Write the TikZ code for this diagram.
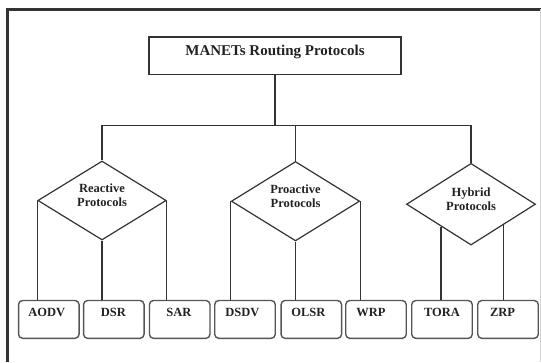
\documentclass[tikz,border=0pt]{standalone}
\usepackage{fontspec}
\setmainfont{Liberation Serif}
\usetikzlibrary{shapes.geometric,calc}
\definecolor{ink}{HTML}{222222}
\definecolor{edge}{HTML}{333333}
\definecolor{leafedge}{HTML}{555555}
\newcommand\leafTxt[2]{\kern-#1pt #2\kern#1pt}
\tikzset{
  conn/.style={draw=edge, line width=1.2pt},
  titlebox/.style={draw=edge, line width=1.3pt, minimum width=252pt, minimum height=37.5pt,
    inner sep=0pt, text height=8pt, text depth=8pt, text=ink,
    font=\fontsize{15}{18}\selectfont\bfseries},
  protodiamond/.style={diamond, draw=edge, line width=1.2pt, inner sep=0pt, text=ink,
    font=\fontsize{12.5}{14.5}\selectfont\bfseries},
  leafbox/.style={draw=leafedge, line width=1.4pt, rounded corners=4pt, minimum width=60.5pt,
    minimum height=37.8pt, inner sep=0pt, text height=6pt, text depth=11.6pt, text=ink,
    font=\fontsize{12.5}{15}\selectfont\bfseries},
  frameline/.style={draw=edge, line width=2.5pt}
}
\newcommand\dtext[2]{\raisebox{3.8pt}[\height][\depth]{\begin{tabular}{@{}c@{}}#1\\#2\end{tabular}}}
\begin{document}
\begin{tikzpicture}[x=1pt, y=-1pt]
\useasboundingbox (0,0) rectangle (541,362);
% frame
\draw[frameline] (7.6,362) -- (7.6,9.3) -- (541,9.3);
\draw[gray!35, line width=1pt] (540.3,9.3) -- (540.3,362);
% title
\node[titlebox] (top) at (275,55.7) {MANETs Routing Protocols};
% diamonds
\node[protodiamond, minimum width=128.4pt, minimum height=79pt] (R) at (102,200.5) {\dtext{Reactive}{Protocols}};
\node[protodiamond, minimum width=128.3pt, minimum height=79pt] (P) at (295.5,201.2) {\dtext{Proactive}{Protocols}};
\node[protodiamond, minimum width=129pt, minimum height=81.7pt] (H) at (471,204.2) {\dtext{Hybrid}{Protocols}};
% bus
\coordinate (bus) at (275,125.3);
\draw[conn] (top.south) -- (bus);
\draw[conn] (R.north) -- (R.north |- bus) -- (H.north |- bus) -- (H.north);
\draw[conn] (P.north) -- (P.north |- bus);
% leaves
\node[leafbox] (aodv) at (48.8,319.4) {\leafTxt{2}{AODV}};
\node[leafbox] (dsr)  at (113.8,319.4) {\leafTxt{0.5}{DSR}};
\node[leafbox] (sar)  at (179.7,319.4) {\leafTxt{0.7}{SAR}};
\node[leafbox] (dsdv) at (245,319.4) {\leafTxt{2.7}{DSDV}};
\node[leafbox] (olsr) at (311.3,319.4) {\leafTxt{3}{OLSR}};
\node[leafbox] (wrp)  at (376,319.4) {\leafTxt{5}{WRP}};
\node[leafbox] (tora) at (442,319.4) {\leafTxt{0}{TORA}};
\node[leafbox] (zrp)  at (508,319.4) {\leafTxt{5.5}{ZRP}};
% diamond to leaf connectors
\draw[conn] (R.west) -- (R.west |- aodv.north);
\draw[conn] (R.south) -- (R.south |- dsr.north);
\draw[conn] (R.east) -- (R.east |- sar.north);
\draw[conn] (P.west) -- (P.west |- dsdv.north);
\draw[conn] (P.south) -- (P.south |- olsr.north);
\draw[conn] (P.east) -- (P.east |- wrp.north);
\coordinate (hl) at ($(H.west)!0.54!(H.south)$);
\coordinate (hr) at ($(H.east)!0.5!(H.south)$);
\draw[conn] (hl) -- (hl |- tora.north);
\draw[conn] (hr) -- (hr |- zrp.north);
\end{tikzpicture}
\end{document}
